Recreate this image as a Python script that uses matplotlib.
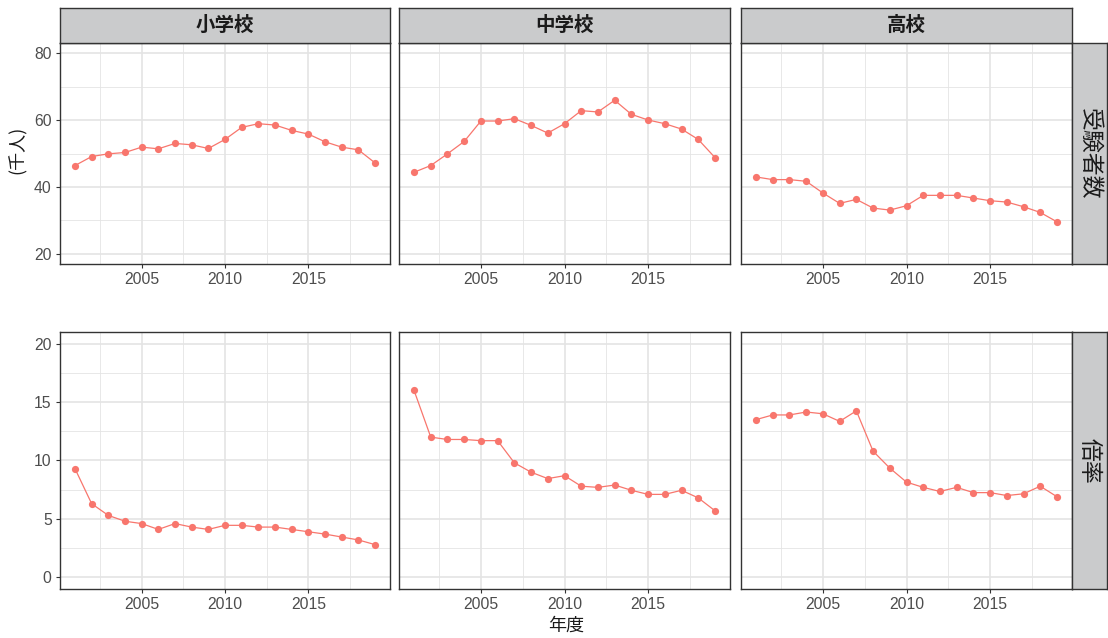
import matplotlib

matplotlib.use("Agg")
import matplotlib.pyplot as plt

plt.rcParams["font.family"] = ["Liberation Sans", "Noto Sans CJK JP", "DejaVu Sans"]

years = list(range(2001, 2020))
schools = ["小学校", "中学校", "高校"]
measures = ["受験者数", "倍率"]

# 受験者数 (千人)
applicants_elem = [46.4, 49.1, 49.9, 50.3, 51.9, 51.4, 53.0, 52.6, 51.5, 54.2,
                   57.8, 58.9, 58.5, 56.9, 55.8, 53.5, 51.9, 51.1, 47.2]
applicants_junior = [44.4, 46.4, 49.9, 53.6, 59.7, 59.7, 60.4, 58.4, 56.1, 58.9,
                     62.8, 62.4, 65.9, 61.7, 60.0, 58.9, 57.3, 54.2, 48.8]
applicants_high = [43.0, 42.2, 42.2, 41.7, 38.2, 35.1, 36.3, 33.7, 33.1, 34.4,
                   37.5, 37.5, 37.5, 36.7, 35.9, 35.5, 34.1, 32.4, 29.6]

# 倍率
ratio_elem = [9.3, 6.3, 5.3, 4.8, 4.6, 4.1, 4.6, 4.3, 4.1, 4.45,
              4.45, 4.3, 4.3, 4.1, 3.9, 3.7, 3.45, 3.2, 2.8]
ratio_junior = [16.0, 12.0, 11.8, 11.8, 11.7, 11.7, 9.8, 9.0, 8.45, 8.7,
                7.8, 7.7, 7.9, 7.45, 7.1, 7.1, 7.45, 6.8, 5.7]
ratio_high = [13.5, 13.9, 13.9, 14.15, 14.0, 13.35, 14.25, 10.8, 9.35, 8.15,
              7.7, 7.35, 7.7, 7.25, 7.25, 7.0, 7.15, 7.8, 6.9]

series = [
    [applicants_elem, applicants_junior, applicants_high],
    [ratio_elem, ratio_junior, ratio_high],
]
y_limits = [(17, 83), (-1, 21)]
y_major = [[20, 40, 60, 80], [0, 5, 10, 15, 20]]
y_minor = [[30, 50, 70], [2.5, 7.5, 12.5, 17.5]]
x_major = [2005, 2010, 2015]
x_minor = [2002.5, 2007.5, 2012.5, 2017.5]

W, H = 1108, 638
col_px = [(60, 390), (399, 730), (741, 1072)]
row_px = [(43, 264), (332, 589)]
strip_top = 8
strip_right = 1107

line_col = "#F8766D"
grid_col = "#E4E4E4"
border_col = "#333333"
strip_fill = "#CACBCC"
tick_col = "#4D4D4D"
cjk = ["Noto Sans CJK JP", "DejaVu Sans"]


def box(x0, y0, x1, y1):
    return [x0 / W, 1 - y1 / H, (x1 - x0) / W, (y1 - y0) / H]


def style_strip(sax):
    sax.set_facecolor(strip_fill)
    sax.set_xticks([])
    sax.set_yticks([])
    for s in sax.spines.values():
        s.set_color(border_col)
        s.set_linewidth(1.0)


fig = plt.figure(figsize=(W / 100, H / 100), dpi=100)

for r, (y0, y1) in enumerate(row_px):
    for c, (x0, x1) in enumerate(col_px):
        ax = fig.add_axes(box(x0, y0, x1, y1))
        ax.set_xlim(2000.1, 2019.9)
        ax.set_ylim(*y_limits[r])
        ax.set_xticks(x_major)
        ax.set_xticks(x_minor, minor=True)
        ax.set_yticks(y_major[r])
        ax.set_yticks(y_minor[r], minor=True)
        ax.grid(which="major", color=grid_col, linewidth=1.2)
        ax.grid(which="minor", color=grid_col, linewidth=0.6)
        ax.set_axisbelow(True)
        ax.plot(years, series[r][c], color=line_col, linewidth=0.9,
                marker="o", markersize=5.2, markeredgewidth=0, zorder=3)
        for s in ax.spines.values():
            s.set_color(border_col)
            s.set_linewidth(1.0)
        ax.tick_params(which="major", length=3, width=0.8, color=border_col,
                       labelcolor=tick_col, labelsize=11.3, pad=3)
        ax.tick_params(which="minor", length=0)
        if c > 0:
            ax.tick_params(axis="y", which="major", length=0, labelleft=False)

        if r == 0:
            sax = fig.add_axes(box(x0, strip_top, x1, y0))
            style_strip(sax)
            sax.text(0.5, 0.5, schools[c], ha="center", va="center",
                     fontsize=14, fontweight="bold", color="#1A1A1A", family=cjk)

    rax = fig.add_axes(box(col_px[-1][1], y0, strip_right, y1))
    style_strip(rax)
    rax.text(0.5, 0.5, measures[r], ha="center", va="center", rotation=-90,
             fontsize=16.5, color="#1A1A1A", family=cjk)

fig.text(18 / W, 1 - 150 / H, "(千人)", rotation=90, ha="center", va="center",
         fontsize=13, color="#1A1A1A", family=cjk)
fig.text(566 / W, 1 - 626 / H, "年度", ha="center", va="center",
         fontsize=13, color="#1A1A1A", family=cjk)

fig.savefig("out.png", dpi=100, facecolor="white")
plt.close(fig)
